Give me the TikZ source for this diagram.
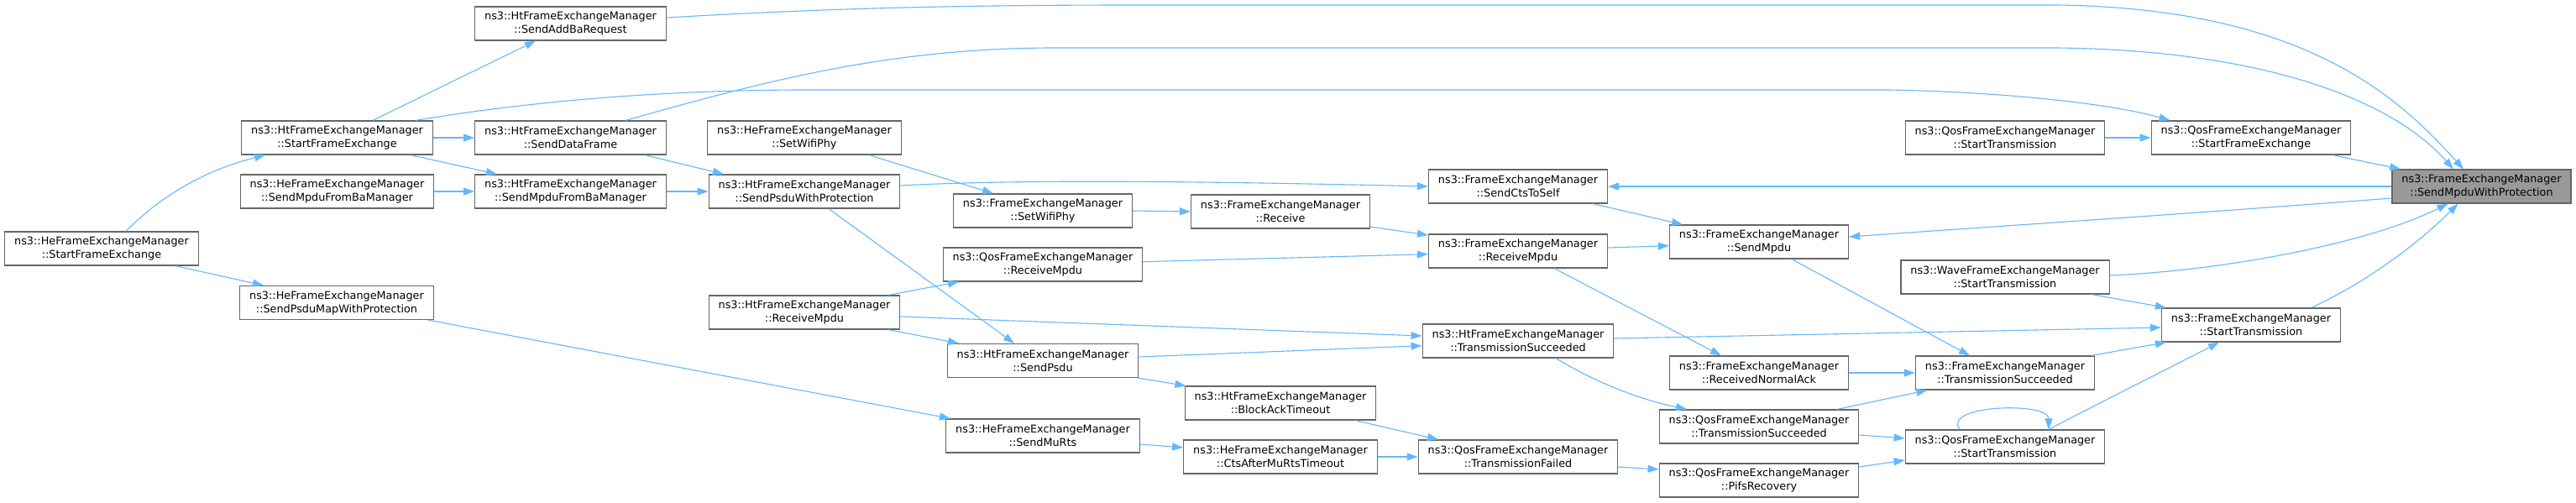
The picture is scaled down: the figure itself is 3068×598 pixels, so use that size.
\documentclass[tikz,border=0pt]{standalone}
\usepackage{fontspec}
\setmainfont{DejaVu Sans}
\usetikzlibrary{arrows.meta}
\definecolor{edgeblue}{HTML}{63B8FF}
\definecolor{boxgray}{HTML}{666666}
\definecolor{targetfill}{HTML}{999999}
\begin{document}
\begin{tikzpicture}[x=1pt,y=-1pt,
  box/.style={draw=boxgray, fill=white, line width=1.2pt, minimum height=40pt,
    inner xsep=11.5pt, inner ysep=0pt, align=center,
    font=\fontsize{12.8}{16}\selectfont},
  tgt/.style={box, fill=targetfill},
  edge/.style={draw=edgeblue, line width=1.1pt, -{Triangle[length=13pt,width=9pt]}}]
\useasboundingbox[fill=white] (0,0) rectangle (3068,598);

% nodes
\node[box] (hesfe)  at (121,296)   {ns3::HeFrameExchangeManager\\::StartFrameExchange};
\node[box] (htsfe)  at (401.5,164) {ns3::HtFrameExchangeManager\\::StartFrameExchange};
\node[box] (hesmba) at (401.5,228) {ns3::HeFrameExchangeManager\\::SendMpduFromBaManager};
\node[box] (hespm)  at (401,360.5) {ns3::HeFrameExchangeManager\\::SendPsduMapWithProtection};
\node[box] (sab)    at (679.5,28)  {ns3::HtFrameExchangeManager\\::SendAddBaRequest};
\node[box] (sdf)    at (679.5,164) {ns3::HtFrameExchangeManager\\::SendDataFrame};
\node[box] (htsmba) at (679.5,228) {ns3::HtFrameExchangeManager\\::SendMpduFromBaManager};
\node[box] (heswp)  at (958,164)   {ns3::HeFrameExchangeManager\\::SetWifiPhy};
\node[box] (htspwp) at (958,228)   {ns3::HtFrameExchangeManager\\::SendPsduWithProtection};
\node[box] (htrm)   at (958,372)   {ns3::HtFrameExchangeManager\\::ReceiveMpdu};
\node[box] (fswp)   at (1242,251)  {ns3::FrameExchangeManager\\::SetWifiPhy};
\node[box] (qrm)    at (1242,315)  {ns3::QosFrameExchangeManager\\::ReceiveMpdu};
\node[box] (htsp)   at (1242,429.5){ns3::HtFrameExchangeManager\\::SendPsdu};
\node[box] (hesmr)  at (1242,519)  {ns3::HeFrameExchangeManager\\::SendMuRts};
\node[box] (frcv)   at (1525,252)  {ns3::FrameExchangeManager\\::Receive};
\node[box] (htbat)  at (1525,480)  {ns3::HtFrameExchangeManager\\::BlockAckTimeout};
\node[box] (hecam)  at (1525,544)  {ns3::HeFrameExchangeManager\\::CtsAfterMuRtsTimeout};
\node[box] (fscts)  at (1808,222)  {ns3::FrameExchangeManager\\::SendCtsToSelf};
\node[box] (frm)    at (1808,299)  {ns3::FrameExchangeManager\\::ReceiveMpdu};
\node[box] (httxs)  at (1808,406)  {ns3::HtFrameExchangeManager\\::TransmissionSucceeded};
\node[box] (qtxf)   at (1808,544)  {ns3::QosFrameExchangeManager\\::TransmissionFailed};
\node[box] (fsm)    at (2095,288)  {ns3::FrameExchangeManager\\::SendMpdu};
\node[box] (frna)   at (2095,444)  {ns3::FrameExchangeManager\\::ReceivedNormalAck};
\node[box] (qtxs)   at (2095,508)  {ns3::QosFrameExchangeManager\\::TransmissionSucceeded};
\node[box] (qpifs)  at (2095,572)  {ns3::QosFrameExchangeManager\\::PifsRecovery};
\node[box] (qstx1)  at (2388,164)  {ns3::QosFrameExchangeManager\\::StartTransmission};
\node[box] (wstx)   at (2388,330)  {ns3::WaveFrameExchangeManager\\::StartTransmission};
\node[box] (ftxs)   at (2388,444)  {ns3::FrameExchangeManager\\::TransmissionSucceeded};
\node[box] (qstx2)  at (2388,532)  {ns3::QosFrameExchangeManager\\::StartTransmission};
\node[box] (qsfe)   at (2681,164)  {ns3::QosFrameExchangeManager\\::StartFrameExchange};
\node[box] (fstx)   at (2681,387)  {ns3::FrameExchangeManager\\::StartTransmission};
\node[tgt] (target) at (2955.5,222){ns3::FrameExchangeManager\\::SendMpduWithProtection};

% edges
\draw[edge] ([xshift=29pt]hesfe.north) .. controls (200,225) and (255,200) .. ([xshift=-85.5pt]htsfe.south);
\draw[edge] ([xshift=88pt]hesfe.south) -- ([xshift=-87pt]hespm.north);
\draw[edge] ([xshift=42.5pt]htsfe.north) -- ([xshift=-41.5pt]sab.south);
\draw[edge] (htsfe.east) -- (sdf.west);
\draw[edge] ([xshift=87.5pt]htsfe.south) -- ([xshift=-87.5pt]htsmba.north);
\draw[edge] ([xshift=93.5pt]htsfe.north) .. controls (600,126) and (750,108) .. (950,107)
  -- (2250,107) .. controls (2400,110) and (2520,125) .. ([xshift=-96.5pt]qsfe.north);
\draw[edge] ([xshift=65.5pt]sdf.north) .. controls (900,100) and (1050,58) .. (1250,57)
  -- (2450,57) .. controls (2700,60) and (2850,120) .. ([xshift=-33.5pt]target.north);
\draw[edge] ([yshift=7pt]sab.east) .. controls (950,12) and (1100,6) .. (1350,6)
  -- (2450,6) .. controls (2750,10) and (2860,120) .. ([xshift=-21.5pt]target.north);
\draw[edge] (hesmba.east) -- (htsmba.west);
\draw[edge] ([xshift=88.5pt]sdf.south) -- ([xshift=-96pt]htspwp.north);
\draw[edge] (htsmba.east) -- (htspwp.west);
\draw[edge] ([xshift=77pt]heswp.south) -- ([xshift=-59pt]fswp.north);
\draw[edge] ([yshift=7pt]htspwp.east) .. controls (1200,214) and (1400,215) .. (fscts.west);
\draw[edge] ([xshift=29pt]htspwp.south) -- ([xshift=-34pt]htsp.north);
\draw[edge] (fswp.east) -- (frcv.west);
\draw[edge] ([yshift=-18pt]frcv.east) -- ([yshift=19pt]frm.west);
\draw[edge] ([yshift=3.3pt]qrm.east) -- ([yshift=-3.7pt]frm.west);
\draw[edge] ([xshift=100pt]htrm.north) -- ([xshift=-100pt]qrm.south);
\draw[edge] ([xshift=100pt]htrm.south) -- ([xshift=-100pt]htsp.north);
\draw[edge] ([yshift=-5pt]htrm.east) -- ([yshift=6pt]httxs.west);
\draw[edge] ([yshift=4.5pt]htsp.east) -- ([yshift=-5.7pt]httxs.west);
\draw[edge] ([xshift=-1pt]htsp.south east) -- ([xshift=2pt]htbat.north west);
\draw[edge] ([xshift=109pt]hespm.south) -- ([xshift=-110pt]hesmr.north);
\draw[edge] ([yshift=-10pt]hesmr.east) -- ([yshift=11pt]hecam.west);
\draw[edge] ([xshift=89pt]htbat.south) -- ([xshift=-95pt]qtxf.north);
\draw[edge] (hecam.east) -- (qtxf.west);
\draw[edge] ([yshift=4pt]frm.east) -- ([yshift=-4.7pt]fsm.west);
\draw[edge] ([xshift=89pt]fscts.south) -- ([xshift=-91pt]fsm.north);
\draw[edge] ([xshift=43pt]frm.south) -- ([xshift=-45pt]frna.north);
\draw[edge] ([xshift=45pt]httxs.south) .. controls (1900,455) and (1950,475) .. ([xshift=-86pt]qtxs.north);
\draw[edge] ([yshift=3pt]httxs.east) -- ([yshift=-3pt]fstx.west);
\draw[edge] ([xshift=39pt]fsm.south) -- ([xshift=-42pt]ftxs.north);
\draw[edge] (frna.east) -- (ftxs.west);
\draw[edge] ([xshift=93pt]qtxs.north) -- ([xshift=-92.5pt]ftxs.south);
\draw[edge] ([yshift=-10pt]qtxs.east) -- ([yshift=10pt]qstx2.west);
\draw[edge] ([yshift=-12pt]qtxf.east) -- ([yshift=13pt]qpifs.west);
\draw[edge] ([yshift=16pt]qpifs.east) -- ([yshift=-16pt]qstx2.west);
\draw[edge] ([xshift=-54pt]qstx2.north) .. controls (2312,482) and (2440,478) .. ([xshift=52pt]qstx2.north);
\draw[edge] ([xshift=52pt]qstx2.north) .. controls (2500,480) and (2580,440) .. ([xshift=-38pt]fstx.south);
\draw[edge] ([xshift=103pt]ftxs.north) -- ([xshift=6pt]fstx.south west);
\draw[edge] ([xshift=103pt]wstx.south) -- ([xshift=6pt]fstx.north west);
\draw[edge] ([yshift=2pt]wstx.east) .. controls (2650,322) and (2820,290) .. ([xshift=-40pt]target.south);
\draw[edge] ([xshift=72pt]fstx.north) .. controls (2820,335) and (2880,290) .. ([xshift=-28pt]target.south);
\draw[edge] (qstx1.east) -- (qsfe.west);
\draw[edge] ([xshift=97pt]qsfe.south) -- ([xshift=11pt]target.north west);
\draw[edge] (target.west) -- (fscts.east);
\draw[edge] ([yshift=-14pt]target.west) .. controls (2600,255) and (2400,268) .. ([yshift=6pt]fsm.east);
\end{tikzpicture}
\end{document}
